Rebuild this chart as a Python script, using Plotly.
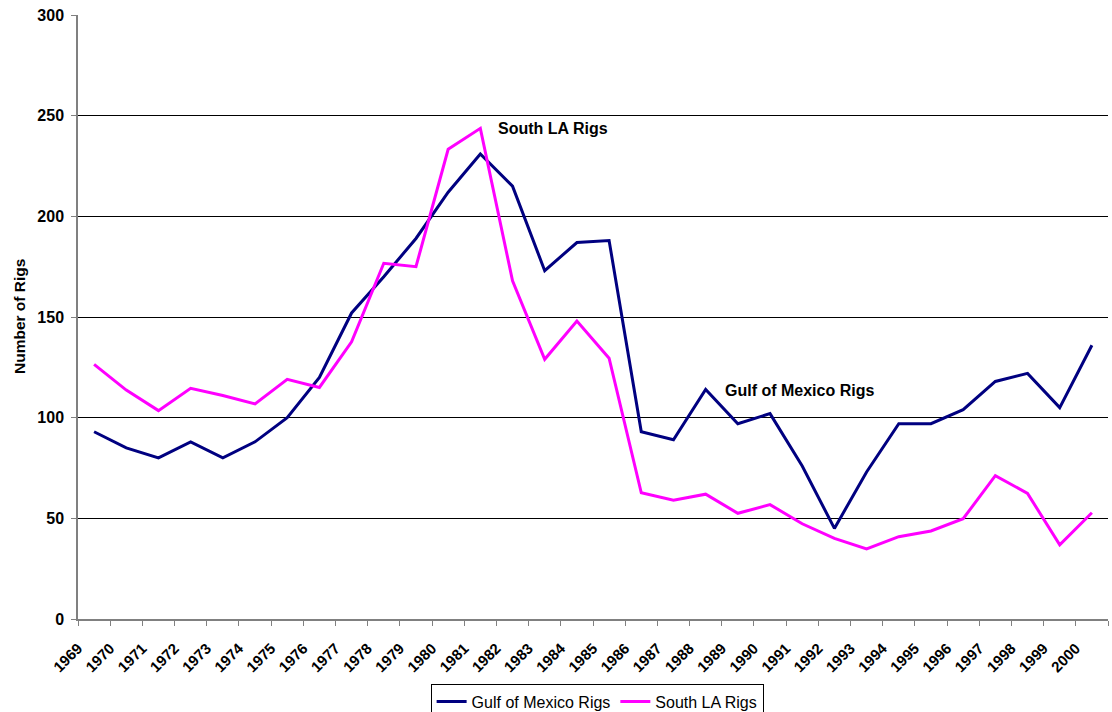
import plotly.graph_objects as go

years = [str(y) for y in range(1969, 2001)]
gulf_of_mexico = [93, 85, 80, 88, 80, 88, 100, 120, 152, 170, 189, 212, 231, 215, 173, 187,
                  188, 93, 89, 114, 97, 102, 76, 45, 73, 97, 97, 104, 118, 122, 105, 136]
south_la = [126.5, 113.7, 103.5, 114.6, 111, 106.8, 119, 115, 137.7, 176.7, 175, 233.3,
            243.7, 168, 129, 148, 129.5, 62.7, 59, 62, 52.5, 56.8, 47.3, 40, 34.8, 40.9,
            43.7, 49.8, 71.2, 62.4, 36.8, 52.8]

# category centres sit midway between tick marks
xpos = [i + 0.5 for i in range(len(years))]
FONT = "Arial, Liberation Sans, sans-serif"

fig = go.Figure()
fig.add_trace(go.Scatter(x=xpos, y=gulf_of_mexico, mode="lines", name="Gulf of Mexico Rigs",
                         line=dict(color="#000080", width=3)))
fig.add_trace(go.Scatter(x=xpos, y=south_la, mode="lines", name="South LA Rigs",
                         line=dict(color="#FF00FF", width=3)))

fig.update_layout(
    width=1112, height=712,
    margin=dict(l=78, r=4, t=15, b=93, autoexpand=False),
    paper_bgcolor="white", plot_bgcolor="white",
    font=dict(family=FONT, color="black"),
    showlegend=True,
    legend=dict(orientation="h", x=0.504, xanchor="center", y=-0.107, yanchor="top",
                bordercolor="black", borderwidth=1, font=dict(size=16, family=FONT),
                bgcolor="white", itemwidth=30),
    xaxis=dict(range=[0, len(years)], tickmode="array",
               tickvals=list(range(len(years) + 1)), ticktext=years + [""],
               tickangle=-45, tickfont=dict(size=15, family=FONT, weight="bold"),
               showgrid=False, zeroline=False, showline=True, linecolor="#808080",
               linewidth=1.5, ticks="outside", ticklen=5, tickcolor="#808080",
               ticklabelstandoff=8, automargin=False),
    yaxis=dict(range=[0, 300], dtick=50, tickfont=dict(size=16, family=FONT, weight="bold"),
               showgrid=True, gridcolor="black", gridwidth=1, zeroline=False,
               showline=True, linecolor="#808080", linewidth=1.5, ticks="outside",
               ticklen=5, tickcolor="#808080", ticklabelstandoff=4, automargin=False),
    annotations=[
        dict(text="Number of Rigs", xref="paper", yref="paper", x=(19 - 78) / 1030, y=0.5,
             textangle=-90, showarrow=False, xanchor="center", yanchor="middle",
             font=dict(size=15.5, family=FONT, weight="bold")),
        dict(text="South LA Rigs", xref="x", yref="y", x=13.0, y=243.4, showarrow=False,
             xanchor="left", yanchor="middle", font=dict(size=16, family=FONT, weight="bold")),
        dict(text="Gulf of Mexico Rigs", xref="x", yref="y", x=20.04, y=113.7, showarrow=False,
             xanchor="left", yanchor="middle", font=dict(size=16, family=FONT, weight="bold")),
    ],
)

fig.write_html("out.html", config={"displayModeBar": False},
               post_script="document.body.style.margin='0';document.body.style.overflow='hidden';")
